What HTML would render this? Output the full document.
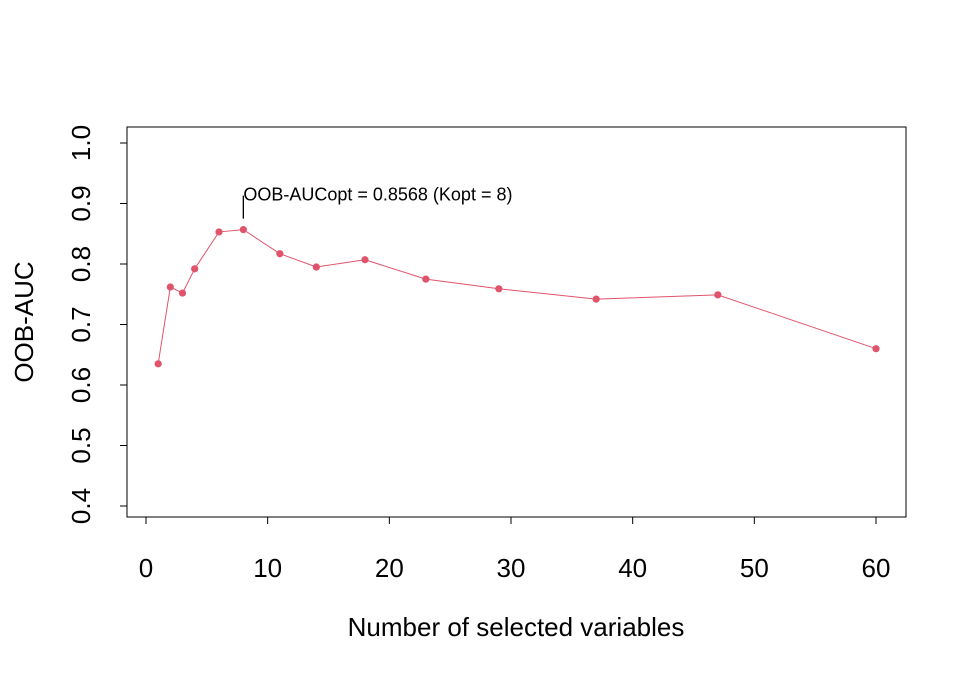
<!DOCTYPE html>
<html><head><meta charset="utf-8"><style>body{margin:0;background:#fff}svg{display:block;font-family:"Liberation Sans",Arial,sans-serif}</style></head>
<body>
<svg id="c" width="971" height="676" viewBox="0 0 971 676"></svg>
<script>
const kValues=[1,2,3,4,6,8,11,14,18,23,29,37,47,60];
const aucValues=[0.635,0.762,0.752,0.792,0.853,0.8568,0.817,0.795,0.807,0.775,0.759,0.742,0.749,0.660];
const xTicks=[0,10,20,30,40,50,60];
const yTicks=[0.4,0.5,0.6,0.7,0.8,0.9,1.0];
const optK=8, optAUC=0.8568;
const NS="http://www.w3.org/2000/svg";
const svg=document.getElementById('c');
const X=v=>146+v*(876-146)/60;
const Y=v=>143+(1.0-v)*(506-143)/0.6;
function el(t,a,txt){const e=document.createElementNS(NS,t);for(const k in a)e.setAttribute(k,a[k]);if(txt!=null)e.textContent=txt;svg.appendChild(e);return e;}
let e=el('rect',{x:127,y:127,width:779,height:390,fill:'none',stroke:'#000','stroke-width':1});


e=el('line',{x1:X(0),x2:X(60),y1:517,y2:517,stroke:'#000'});


xTicks.forEach(t=>{
  let l=el('line',{x1:X(t),x2:X(t),y1:517,y2:524,stroke:'#000'});
  
  
  let s=el('text',{x:X(t),y:577,'text-anchor':'middle','font-size':26},String(t));
  
  
});
e=el('line',{x1:127,x2:127,y1:Y(0.4),y2:Y(1.0),stroke:'#000'});


yTicks.forEach(t=>{
  let l=el('line',{x1:120,x2:127,y1:Y(t),y2:Y(t),stroke:'#000'});
  
  
  let s=el('text',{x:0,y:0,'text-anchor':'middle','font-size':26,transform:`translate(90,${Y(t)}) rotate(-90)`},t.toFixed(1));
  
  
});
e=el('text',{x:516,y:636,'text-anchor':'middle','font-size':26},'Number of selected variables');


e=el('text',{x:0,y:0,'text-anchor':'middle','font-size':26,transform:'translate(33,322) rotate(-90)'},'OOB-AUC');


e=el('polyline',{points:kValues.map((k,i)=>X(k)+','+Y(aucValues[i])).join(' '),fill:'none',stroke:'#DF536B','stroke-width':1});


kValues.forEach((k,i)=>{
  let c=el('circle',{cx:X(k),cy:Y(aucValues[i]),r:3.6,fill:'#DF536B'});
  
  
});
e=el('line',{x1:X(optK),x2:X(optK),y1:Y(optAUC)-11,y2:Y(optAUC)-34,stroke:'#000','stroke-width':1.3});


e=el('text',{x:X(optK)+0,y:Y(optAUC)-29,'font-size':18},'OOB-AUCopt = 0.8568 (Kopt = 8)');


</script>
</body></html>
